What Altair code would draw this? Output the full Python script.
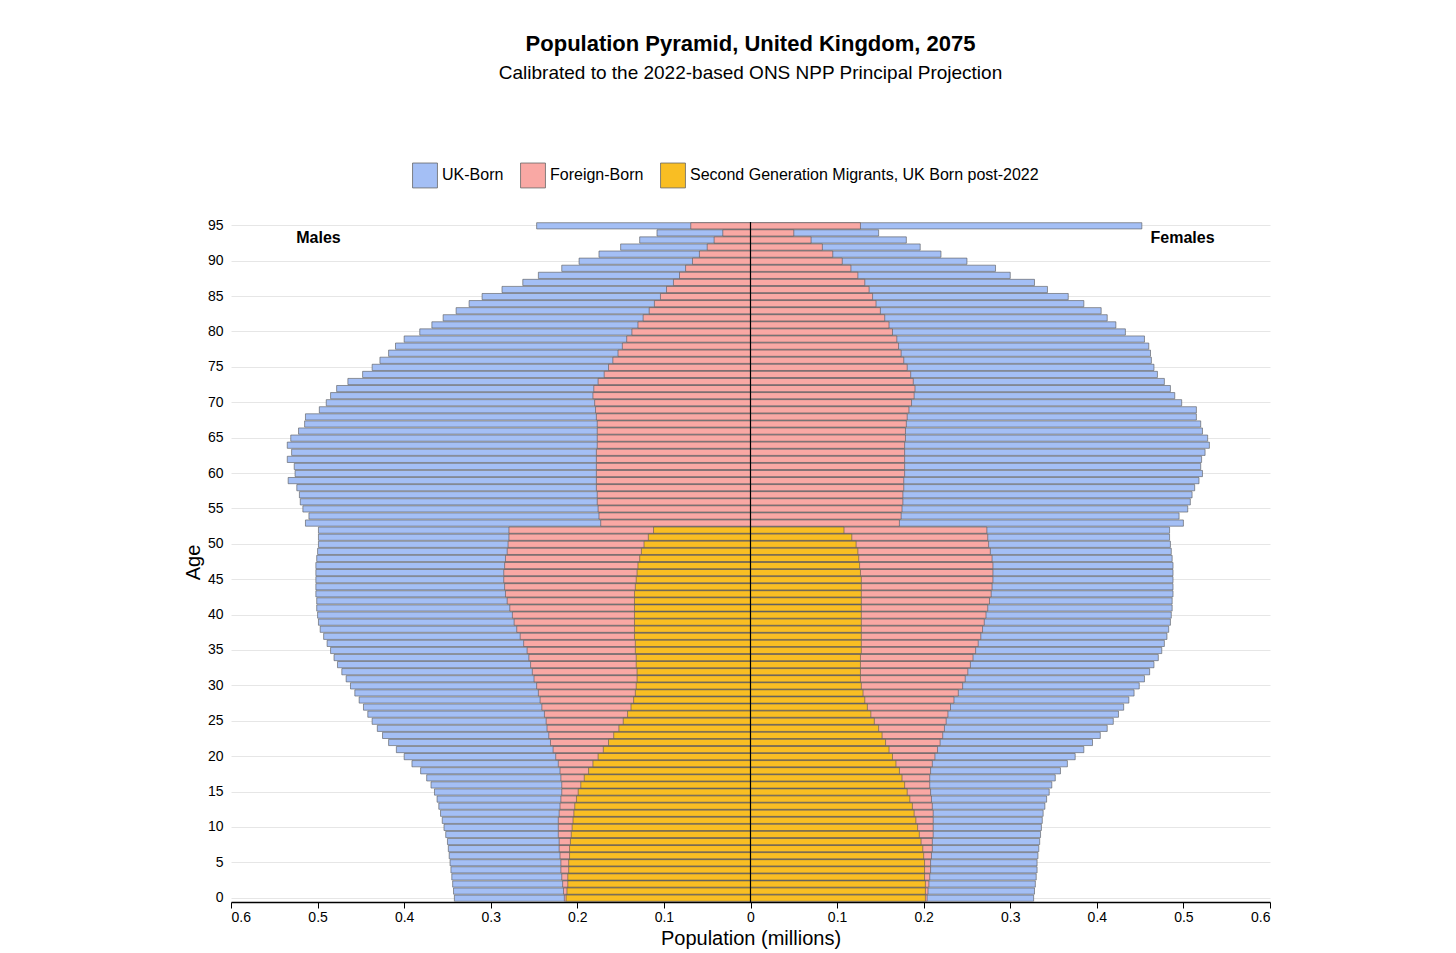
import altair as alt
import pandas as pd

ages = list(range(96))

# outer edges of each stacked band, millions
male_total = [0.342,0.343,0.344,0.345,0.346,0.347,0.348,0.349,0.350,0.352,
              0.354,0.356,0.358,0.360,0.362,0.365,0.369,0.374,0.381,0.391,
              0.400,0.409,0.418,0.425,0.431,0.437,0.442,0.447,0.452,0.457,
              0.462,0.467,0.472,0.477,0.481,0.485,0.489,0.493,0.497,0.499,
              0.500,0.501,0.501,0.502,0.502,0.502,0.502,0.502,0.501,0.500,
              0.499,0.499,0.499,
              0.514,0.510,0.517,0.520,0.521,0.524,0.534,
              0.526,0.527,0.535,0.530,0.535,0.531,0.522,0.515,0.514,0.498,
              0.490,0.485,0.478,0.465,0.448,0.437,0.428,0.418,0.410,0.400,
              0.382,0.368,0.355,0.340,0.325,0.310,0.287,0.263,0.245,0.218,
              0.198,0.175,0.150,0.128,0.108,0.247]
male_foreign = [0.215,0.216,0.217,0.218,0.219,0.219,0.220,0.221,0.221,0.222,
                0.222,0.222,0.221,0.220,0.219,0.218,0.218,0.219,0.220,0.222,
                0.225,0.228,0.231,0.233,0.235,0.236,0.238,0.241,0.243,0.245,
                0.247,0.250,0.252,0.254,0.256,0.258,0.262,0.266,0.270,0.273,
                0.275,0.278,0.281,0.283,0.284,0.285,0.285,0.284,0.283,0.281,
                0.280,0.279,0.279,
                0.173,0.175,0.176,0.177,0.177,0.178,0.178,
                0.178,0.178,0.178,0.178,0.177,0.177,0.177,0.177,0.178,0.179,
                0.180,0.182,0.181,0.176,0.169,0.164,0.159,0.153,0.148,0.143,
                0.137,0.130,0.124,0.117,0.111,0.104,0.097,0.089,0.082,0.075,
                0.067,0.059,0.050,0.042,0.032,0.069]
male_second = [0.213,0.212,0.211,0.211,0.210,0.210,0.209,0.209,0.208,0.207,
               0.206,0.205,0.204,0.203,0.201,0.199,0.196,0.192,0.187,0.182,
               0.176,0.170,0.164,0.158,0.152,0.147,0.142,0.138,0.135,0.133,
               0.132,0.131,0.131,0.132,0.132,0.133,0.133,0.134,0.134,0.134,
               0.134,0.134,0.134,0.134,0.133,0.132,0.131,0.130,0.128,0.126,
               0.123,0.118,0.112]
female_total = [0.327,0.328,0.329,0.330,0.331,0.331,0.332,0.333,0.334,0.335,
                0.336,0.337,0.338,0.340,0.342,0.345,0.348,0.352,0.358,0.366,
                0.375,0.385,0.395,0.404,0.412,0.419,0.425,0.431,0.437,0.443,
                0.449,0.455,0.461,0.466,0.471,0.475,0.478,0.481,0.483,0.485,
                0.486,0.487,0.487,0.488,0.488,0.488,0.488,0.488,0.487,0.486,
                0.485,0.484,0.484,
                0.500,0.495,0.505,0.508,0.510,0.513,0.518,
                0.522,0.520,0.521,0.525,0.530,0.528,0.522,0.520,0.515,0.515,
                0.498,0.490,0.485,0.478,0.470,0.466,0.463,0.462,0.460,0.455,
                0.433,0.422,0.412,0.405,0.385,0.367,0.343,0.328,0.300,0.283,
                0.250,0.220,0.196,0.180,0.148,0.452]
female_foreign = [0.204,0.205,0.206,0.207,0.208,0.208,0.209,0.210,0.210,0.211,
                  0.211,0.211,0.211,0.210,0.209,0.208,0.207,0.207,0.208,0.210,
                  0.213,0.216,0.219,0.222,0.224,0.226,0.228,0.231,0.235,0.240,
                  0.245,0.248,0.251,0.254,0.257,0.260,0.263,0.266,0.268,0.270,
                  0.272,0.274,0.276,0.278,0.279,0.280,0.280,0.280,0.279,0.277,
                  0.275,0.274,0.273,
                  0.172,0.174,0.175,0.176,0.176,0.177,0.177,
                  0.178,0.178,0.178,0.178,0.178,0.179,0.179,0.180,0.181,0.183,
                  0.186,0.189,0.190,0.188,0.185,0.181,0.177,0.174,0.171,0.169,
                  0.164,0.160,0.155,0.150,0.145,0.141,0.137,0.132,0.124,0.116,
                  0.106,0.095,0.083,0.070,0.050,0.127]
female_second = [0.202,0.202,0.202,0.201,0.201,0.201,0.200,0.199,0.197,0.195,
                 0.193,0.191,0.189,0.187,0.184,0.181,0.178,0.175,0.172,0.168,
                 0.164,0.160,0.156,0.152,0.148,0.143,0.139,0.135,0.132,0.130,
                 0.128,0.127,0.127,0.127,0.127,0.128,0.128,0.128,0.128,0.128,
                 0.128,0.128,0.128,0.128,0.128,0.128,0.127,0.126,0.125,0.124,
                 0.122,0.117,0.108]

series = ["UK-Born", "Foreign-Born", "Second Generation Migrants, UK Born post-2022"]
colors = ["#A4BFF5", "#F9A8A4", "#F9BE23"]

rows = []
for name, m, f in zip(series,
                      [male_total, male_foreign, male_second],
                      [female_total, female_foreign, female_second]):
    for i, v in enumerate(m):
        rows.append({"age": ages[i], "series": name, "edge": -v, "zero": 0})
    for i, v in enumerate(f):
        rows.append({"age": ages[i], "series": name, "edge": v, "zero": 0})
df = pd.DataFrame(rows)

ticks = [-0.6, -0.5, -0.4, -0.3, -0.2, -0.1, 0, 0.1, 0.2, 0.3, 0.4, 0.5, 0.6]
age_ticks = list(range(0, 96, 5))

bars = alt.Chart(df).mark_bar(stroke="#555555", strokeWidth=0.6).encode(
    x=alt.X("edge:Q", scale=alt.Scale(domain=[-0.6, 0.6], nice=False),
            axis=alt.Axis(values=ticks, title="Population (millions)", grid=False,
                          labelExpr="datum.value == 0 ? '0' : format(abs(datum.value), '.1f')")),
    x2="zero:Q",
    y=alt.Y("age:O", sort="descending",
            scale=alt.Scale(paddingInner=0.12, paddingOuter=0.1),
            axis=alt.Axis(values=age_ticks, title="Age", grid=True, gridColor="#e6e6e6",
                          ticks=False, domain=False, bandPosition=0.5, labelPadding=8)),
    color=alt.Color("series:N", scale=alt.Scale(domain=series, range=colors),
                    legend=alt.Legend(title=None, orient="none", direction="horizontal",
                                      legendX=181, legendY=-60, labelLimit=0,
                                      symbolType="square", symbolSize=620,
                                      symbolStrokeColor="#666666", symbolStrokeWidth=0.8,
                                      labelFontSize=16, columnPadding=14)),
)

center = alt.Chart(pd.DataFrame({"x": [0]})).mark_rule(color="black", strokeWidth=1.2).encode(x="x:Q")

labels = alt.Chart(pd.DataFrame({"x": [-0.499, 0.499], "t": ["Males", "Females"]})).mark_text(
    fontWeight="bold", fontSize=16, baseline="middle"
).encode(x="x:Q", y=alt.value(16), text="t:N")

chart = alt.layer(bars, center, labels).properties(
    width=1039, height=680,
    padding={"left": 175, "top": 25, "right": 5, "bottom": 5},
    title=alt.TitleParams("Population Pyramid, United Kingdom, 2075",
                          subtitle="Calibrated to the 2022-based ONS NPP Principal Projection",
                          fontSize=22, subtitleFontSize=19, subtitleColor="black",
                          anchor="middle", offset=78, subtitlePadding=8),
).configure(font="Arial").configure_view(stroke=None).configure_axis(
    labelFontSize=14, titleFontSize=20, labelColor="black", titleColor="black",
    titleFontWeight="normal"
).configure_axisX(domainColor="black", tickColor="black", tickSize=6, domainWidth=1.5)

chart.save("out.html", embed_options={"renderer": "svg", "actions": False})
